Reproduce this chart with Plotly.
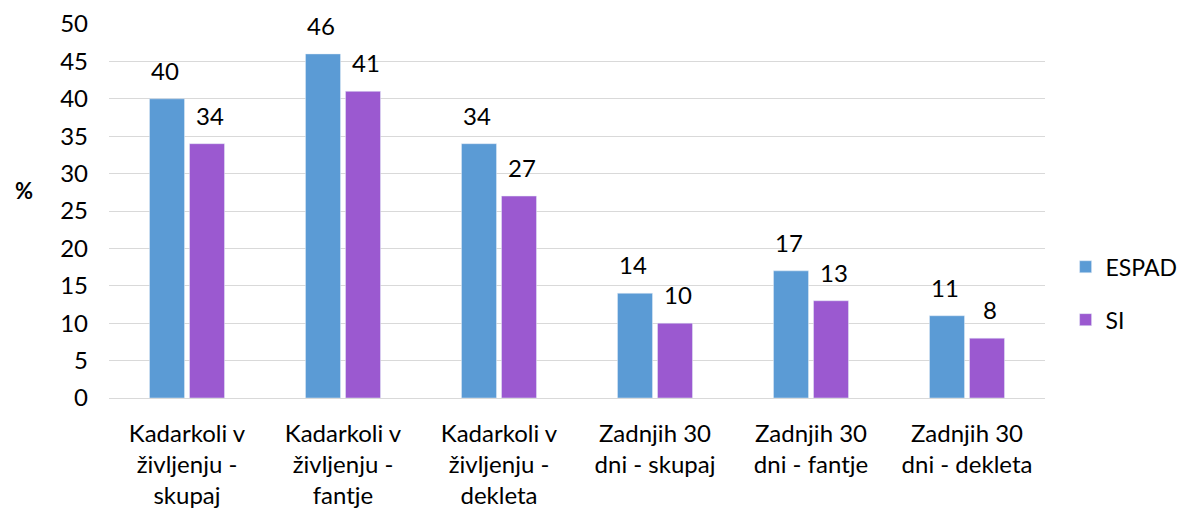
import plotly.graph_objects as go

categories = ["Kadarkoli v<br>življenju -<br>skupaj", "Kadarkoli v<br>življenju -<br>fantje",
              "Kadarkoli v<br>življenju -<br>dekleta", "Zadnjih 30<br>dni - skupaj",
              "Zadnjih 30<br>dni - fantje", "Zadnjih 30<br>dni - dekleta"]
espad = [40, 46, 34, 14, 17, 11]
si = [34, 41, 27, 10, 13, 8]

FONT = "Lato, Carlito, Calibri, sans-serif"
FS = 24
fig = go.Figure()
fig.add_trace(go.Bar(name="ESPAD", x=categories, y=espad, marker_color="#5B9BD5",
                     legendgroup="a"))
fig.add_trace(go.Bar(name="SI", x=categories, y=si, marker_color="#9B59D0",
                     legendgroup="b"))

annotations = []
for vals, shift in ((espad, -22.5), (si, 22.5)):
    for c, v in zip(categories, vals):
        annotations.append(dict(x=c, y=v, xref="x", yref="y", text=str(v), showarrow=False,
                                xanchor="center", yanchor="bottom", xshift=shift, yshift=12,
                                font=dict(size=FS, color="#000000")))
annotations.append(dict(x=-0.103, y=0.556, xref="paper", yref="paper", text="<b>%</b>",
                        showarrow=False, font=dict(size=22, color="#000000")))

fig.update_layout(
    width=1181, height=516,
    margin=dict(l=109, r=136, t=24, b=118, autoexpand=False),
    paper_bgcolor="white", plot_bgcolor="white",
    font=dict(family=FONT, size=FS, color="#000000"),
    barmode="group", bargap=0.487, bargroupgap=0.125,
    showlegend=True,
    legend=dict(x=1.022, y=0.28, xanchor="left", yanchor="middle",
                font=dict(size=23), tracegroupgap=20, itemwidth=30),
    annotations=annotations,
    yaxis=dict(range=[0, 50], dtick=5, showgrid=True, gridcolor="#D9D9D9", gridwidth=1,
               zeroline=True, zerolinecolor="#D9D9D9", zerolinewidth=1,
               tickfont=dict(size=FS), ticks="", ticklabelstandoff=20, automargin=False),
    xaxis=dict(showline=True, linecolor="#D9D9D9", linewidth=1, tickfont=dict(size=FS),
               ticks="", ticklabelstandoff=14, automargin=False),
)
fig.write_html("out.html", config={"displayModeBar": False},
               post_script="document.body.style.margin='0px';document.body.style.overflow='hidden';")
